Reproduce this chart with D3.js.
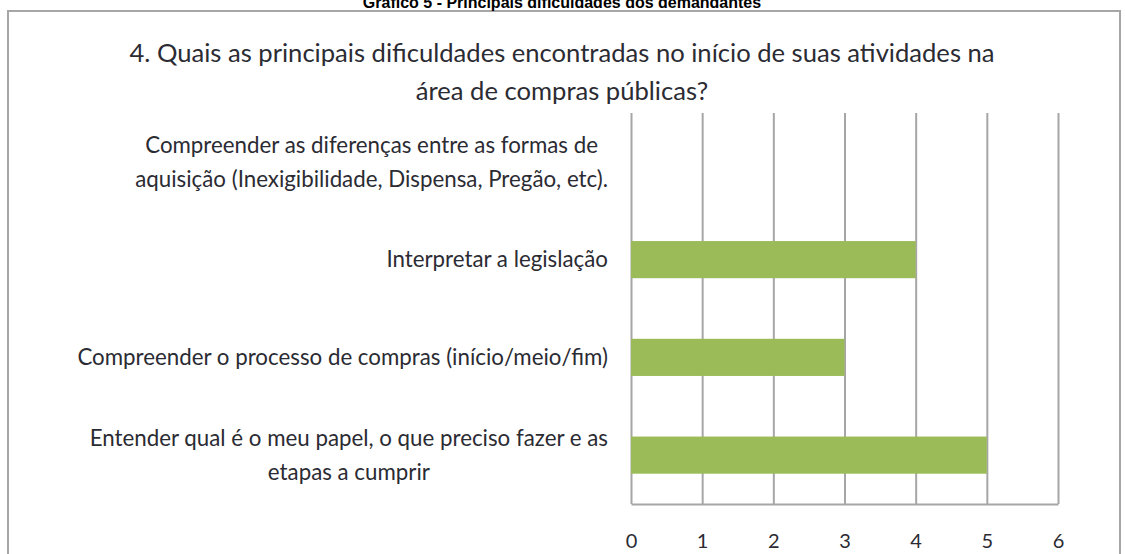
<!DOCTYPE html>
<html>
<head>
<meta charset="utf-8">
<script src="https://cdn.jsdelivr.net/npm/d3@7"></script>
<style>
  html, body { margin: 0; padding: 0; background: #fff; }
  svg { display: block; }
</style>
</head>
<body>
<svg id="chart" width="1125" height="554"></svg>
<script>
// Data
const caption = 'Gráfico 5 - Principais dificuldades dos demandantes';
const titleLines = [
  '4. Quais as principais dificuldades encontradas no início de suas atividades na',
  'área de compras públicas?'
];
const categories = [
  ['Compreender as diferenças entre as formas de', 'aquisição (Inexigibilidade, Dispensa, Pregão, etc).'],
  ['Interpretar a legislação'],
  ['Compreender o processo de compras (início/meio/fim)'],
  ['Entender qual é o meu papel, o que preciso fazer e as', 'etapas a cumprir']
];
const values = [0, 4, 3, 5];
const xTicks = [0, 1, 2, 3, 4, 5, 6];

const BAR_COLOR = '#9bbb59';
const GRID_COLOR = '#a6a6a6';
const TEXT_COLOR = '#2b2b33';
const FONT = 'Lato, "Open Sans", sans-serif';

const svg = d3.select('#chart');
const margin = { top: 113, right: 67, bottom: 50, left: 631 };
const width = 1125;
const height = 554;

// Outer frame (photo of an Excel chart area)
svg.append('rect')
  .attr('x', 8).attr('y', 11)
  .attr('width', 1112).attr('height', 560)
  .attr('fill', 'none')
  .attr('stroke', GRID_COLOR)
  .attr('stroke-width', 2);

// Caption of the figure, cut by the top edge as in the source scan
svg.append('text')
  .attr('x', 562).attr('y', 8)
  .attr('text-anchor', 'middle')
  .attr('font-family', '"Liberation Sans", Arial, sans-serif')
  .attr('font-weight', 'bold')
  .attr('font-size', 16)
  .attr('fill', '#000')
  .text(caption);

// Chart title
svg.append('g')
  .selectAll('text')
  .data(titleLines)
  .join('text')
  .attr('x', 562)
  .attr('y', (d, i) => 62 + i * 38)
  .attr('text-anchor', 'middle')
  .attr('font-family', FONT)
  .attr('font-size', 25.6)
  .attr('fill', TEXT_COLOR)
  .text(d => d);

const x = d3.scaleLinear()
  .domain([0, 6])
  .range([margin.left, width - margin.right]);

const y = d3.scaleBand()
  .domain(d3.range(categories.length))
  .range([margin.top, height - margin.bottom])
  .paddingInner(0.62)
  .paddingOuter(0.31);

const plotH = height - margin.bottom - margin.top;

// Axis with gridlines
const axis = d3.axisBottom(x)
  .tickValues(xTicks)
  .tickFormat(d3.format('d'))
  .tickSizeInner(-plotH)
  .tickSizeOuter(0)
  .tickPadding(30);

const axisG = svg.append('g')
  .attr('transform', `translate(0,${height - margin.bottom})`)
  .call(axis);

axisG.select('.domain')
  .attr('stroke', GRID_COLOR)
  .attr('stroke-width', 2);
axisG.selectAll('.tick line')
  .attr('stroke', GRID_COLOR)
  .attr('stroke-width', 2);
axisG.selectAll('.tick text')
  .attr('font-family', FONT)
  .attr('font-size', 20)
  .attr('fill', TEXT_COLOR);

// Bars
svg.append('g')
  .selectAll('rect')
  .data(values)
  .join('rect')
  .attr('x', x(0))
  .attr('y', (d, i) => y(i))
  .attr('width', d => x(d) - x(0))
  .attr('height', y.bandwidth())
  .attr('fill', BAR_COLOR);

// Category labels: wrapped lines centred on one another, block right-aligned
const LABEL_RIGHT = margin.left - 23;
const LINE_H = 34;
const labelG = svg.append('g');
categories.forEach((lines, i) => {
  const g = labelG.append('g');
  const cy = y(i) + y.bandwidth() / 2;
  const texts = g.selectAll('text')
    .data(lines)
    .join('text')
    .attr('y', (d, j) => cy + (j - (lines.length - 1) / 2) * LINE_H)
    .attr('dy', '0.35em')
    .attr('text-anchor', 'middle')
    .attr('font-family', FONT)
    .attr('font-size', 22.3)
    .attr('fill', TEXT_COLOR)
    .text(d => d);
  let maxW = 0;
  texts.each(function () { maxW = Math.max(maxW, this.getComputedTextLength()); });
  texts.attr('x', LABEL_RIGHT - maxW / 2);
});
</script>
</body>
</html>
